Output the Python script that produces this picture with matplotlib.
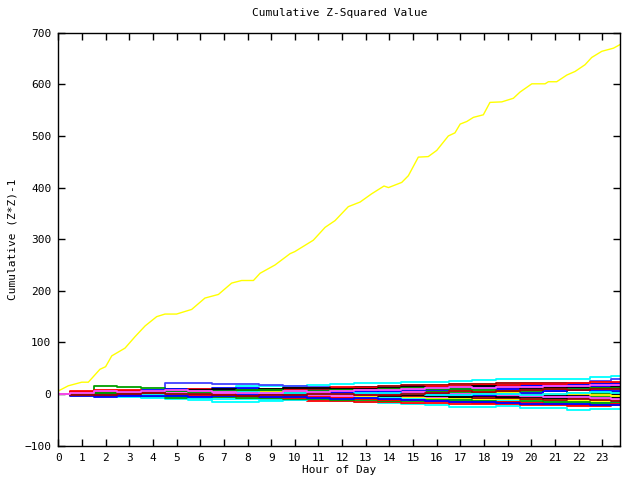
import matplotlib
matplotlib.use("Agg")
import matplotlib.pyplot as plt
import numpy as np

# ---- data ----
# main (yellow) series: (hour, cumulative value)
yellow_hours = [0, 0.42, 0.99, 1.27, 1.76, 2.0, 2.26, 2.82, 3.24, 3.67, 4.16, 4.51, 5.0, 5.64,
                6.2, 6.77, 7.33, 7.75, 8.25, 8.53, 9.16, 9.8, 10.0, 10.78, 11.28, 11.7, 12.26,
                12.76, 13.25, 13.77, 13.96, 14.52, 14.8, 15.22, 15.64, 16.0, 16.49, 16.77,
                16.99, 17.27, 17.55, 17.97, 18.25, 18.75, 19.24, 19.52, 20.02, 20.58, 20.72,
                21.07, 21.5, 21.85, 22.27, 22.55, 22.98, 23.47, 23.75]
yellow_values = [6, 16, 23, 23, 48, 53, 74, 89, 111, 132, 150, 155, 155, 164,
                 186, 193, 215, 220, 220, 234, 250, 272, 276, 298, 323, 336, 363,
                 372, 388, 403, 400, 410, 423, 459, 460, 472, 500, 506,
                 523, 528, 536, 541, 565, 566, 573, 585, 601, 601, 605,
                 605, 618, 625, 638, 652, 664, 670, 677]

# other series sampled at each hour
hours = [0, 1, 2, 3, 4, 5, 6, 7, 8, 9, 10, 11, 12, 13, 14, 15, 16, 17, 18, 19, 20, 21, 22, 23, 23.75]
series = [
    [0, 0, 1, 2, 3, 3, 4, 10, 15, 16, 16, 17, 20, 21, 22, 23, 23, 25, 27, 29, 30, 29, 30, 33, 35],
    [0, 1, 2, 3, 4, 21, 21, 19, 19, 18, 16, 14, 12, 13, 14, 15, 14, 16, 17, 18, 19, 20, 22, 25, 30],
    [0, 2, 15, 13, 12, 10, 9, 8, 6, 5, 3, 2, 1, 3, 5, 6, 8, 10, 12, 15, 17, 18, 20, 20, 18],
    [0, -1, -3, -5, -7, -10, -12, -15, -15, -14, -12, -12, -14, -16, -18, -20, -22, -25, -25, -24, -27, -27, -31, -29, -29],
    [0, 2, 1, -1, -3, -4, -5, -6, -8, -10, -12, -13, -14, -15, -16, -17, -18, -19, -20, -20, -21, -22, -24, -23, -22],
    [0, 5, 7, 6, 4, 3, 2, 3, 5, 4, 6, 7, 5, 3, 2, 4, 6, 8, 9, 10, 12, 13, 14, 16, 17],
    [0, -2, -3, -4, -6, -7, -8, -6, -5, -4, -6, -8, -7, -5, -6, -8, -7, -9, -8, -10, -9, -8, -7, -6, -6],
    [0, 3, 4, 6, 8, 9, 10, 11, 12, 10, 9, 8, 10, 12, 14, 15, 14, 13, 12, 14, 16, 15, 17, 18, 16],
    [0, -1, 0, 2, 1, -1, -3, -5, -7, -6, -4, -3, -5, -6, -8, -7, -5, -4, -6, -5, -3, -4, -2, 0, 1],
    [0, 1, 3, 4, 5, 7, 8, 6, 4, 5, 7, 9, 11, 12, 13, 12, 10, 11, 13, 14, 12, 10, 9, 8, 9],
    [0, 4, 6, 5, 3, 2, 4, 6, 7, 9, 11, 10, 12, 14, 16, 17, 18, 19, 20, 21, 22, 21, 19, 20, 22],
    [0, -3, -2, -1, 0, -2, -3, -4, -2, 0, 1, -1, -3, -4, -6, -8, -10, -9, -11, -12, -10, -12, -14, -13, -12],
    [0, 2, 3, 1, 2, 4, 3, 5, 6, 5, 4, 3, 2, 1, 0, 2, 3, 1, 0, -1, -2, -3, -2, -1, 0],
    [0, 1, -1, -2, -3, -2, 0, 1, -1, -2, -4, -6, -8, -9, -11, -12, -14, -13, -15, -16, -15, -17, -18, -20, -21],
    [0, 0, 1, 3, 4, 6, 5, 3, 2, 1, 2, 4, 6, 5, 7, 8, 6, 4, 3, 2, 4, 5, 3, 2, 4],
    [0, -4, -5, -3, -1, 0, 2, 4, 6, 8, 7, 5, 4, 6, 8, 10, 12, 14, 13, 15, 17, 19, 18, 20, 21],
    [0, 2, 1, 0, -2, -4, -5, -3, -2, -1, 0, 2, 3, 5, 6, 4, 3, 5, 7, 8, 9, 7, 8, 10, 11],
    [0, -1, -2, -4, -5, -6, -8, -9, -10, -12, -11, -10, -9, -8, -7, -9, -11, -12, -14, -13, -15, -16, -18, -17, -16],
    [0, 3, 2, 0, -1, 1, 3, 2, 0, -2, -3, -1, 1, 0, -2, -4, -3, -5, -7, -8, -9, -11, -10, -12, -13],
    [0, 1, 2, 3, 5, 4, 6, 7, 5, 4, 3, 5, 7, 9, 10, 8, 7, 6, 5, 3, 2, 1, 0, -2, -3],
    [0, -2, -1, 1, 0, -1, -2, -1, 1, 2, 3, 2, 0, -1, -3, -2, -4, -5, -4, -6, -5, -7, -6, -8, -7],
    [0, 4, 5, 7, 6, 8, 9, 7, 6, 8, 10, 12, 13, 11, 12, 14, 16, 15, 17, 18, 19, 20, 22, 23, 24],
    [0, 2, 3, 2, 4, 5, 6, 8, 9, 7, 5, 6, 4, 3, 5, 7, 8, 10, 11, 9, 8, 10, 12, 14, 15],
    [0, -1, -3, -2, -4, -5, -4, -6, -8, -7, -9, -10, -12, -11, -13, -14, -12, -11, -13, -15, -14, -16, -15, -17, -18],
    [0, 1, 0, -1, 1, 2, 1, 0, -1, -3, -2, -4, -3, -2, 0, 1, 2, 0, -1, -2, -4, -5, -6, -8, -9],
    [0, -2, -4, -3, -2, -1, -3, -2, 0, 1, -1, 0, 2, 4, 3, 1, 0, -2, -1, 1, 3, 5, 7, 6, 5],
    [0, 2, 4, 3, 1, 0, -1, -2, -4, -5, -7, -6, -8, -10, -12, -11, -13, -15, -17, -16, -18, -20, -22, -21, -20],
    [0, 1, 2, 0, -1, 1, 2, 4, 5, 3, 2, 0, 1, 3, 2, 0, -2, -1, 1, 0, -1, 1, 2, 4, 3],
    [0, 0, 2, 4, 5, 7, 8, 9, 8, 10, 12, 11, 10, 9, 11, 13, 12, 14, 15, 13, 12, 11, 13, 12, 14],
    [0, -1, -2, -1, -3, -4, -5, -3, -4, -6, -5, -7, -9, -8, -10, -12, -13, -15, -16, -18, -19, -20, -19, -21, -22],
    [0, 1, 3, 2, 3, 5, 4, 6, 7, 8, 6, 5, 7, 8, 9, 11, 10, 9, 7, 6, 8, 10, 9, 11, 12],
    [0, -2, -1, 0, 2, 1, 0, -2, -3, -2, -1, 1, 0, -2, -1, 1, 3, 5, 4, 6, 7, 9, 8, 10, 9],
    [0, 3, 5, 4, 6, 7, 5, 4, 2, 3, 5, 4, 6, 8, 7, 9, 11, 13, 12, 14, 13, 15, 16, 17, 18],
]
xticks = list(range(24))
yticks = [-100, 0, 100, 200, 300, 400, 500, 600, 700]

# ---- style ----
colors = ['#00ffff', '#4040ff', '#00a000', '#00ffff', '#ff0000', '#ff0000', '#00a000', '#0000ff',
          '#ff50ff', '#00ffff', '#a00000', '#ffff00', '#000000', '#ff0000', '#00a000', '#0000ff',
          '#ff50ff', '#00ffff', '#a00000', '#ffff00', '#000000', '#ff0000', '#0000ff', '#00a000',
          '#ff50ff', '#0000ff', '#ff0000', '#00ffff', '#000000', '#0000ff', '#00a000', '#a00000',
          '#ff50ff']

plt.rcParams['font.family'] = ['DejaVu Sans Mono']
fig = plt.figure(figsize=(6.4, 4.8), dpi=100)
ax = fig.add_axes([58.3 / 640, 1 - 445.7 / 480, (620.3 - 58.3) / 640, (445.7 - 32.7) / 480])

for i, s in enumerate(series):
    ax.plot(hours, s, color=colors[i % len(colors)], lw=1.3, drawstyle='steps-mid')
ax.plot(yellow_hours, yellow_values, color='#ffff00', lw=1.0)

ax.set_xlim(0, 23.76)
ax.set_ylim(-100, 700)
ax.set_xticks(xticks)
ax.set_yticks(yticks)
ax.tick_params(direction='in', length=5, width=1, top=True, right=True, labelsize=8, pad=5)
for sp in ax.spines.values():
    sp.set_linewidth(1)
ax.set_title('Cumulative Z-Squared Value', fontsize=8, pad=12)
ax.set_xlabel('Hour of Day', fontsize=8, labelpad=2)
ax.set_ylabel('Cumulative (Z*Z)-1', fontsize=8, labelpad=5)

fig.savefig('out.png', dpi=100)
